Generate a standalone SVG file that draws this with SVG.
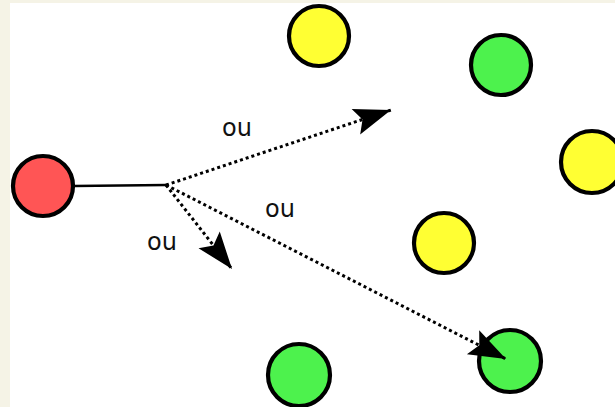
<svg xmlns="http://www.w3.org/2000/svg" width="615" height="407" viewBox="0 0 615 407">
<style>
.n{stroke:#000;stroke-width:4.2}
.r{fill:#ff5555}
.y{fill:#ffff33}
.g{fill:#4df24d}
.d{fill:none;stroke:#000;stroke-width:3;stroke-dasharray:3 3}
.s{fill:none;stroke:#000;stroke-width:2.5}
text{font-family:"DejaVu Sans",sans-serif;font-size:24px;fill:#111}
</style>
<defs>
<marker id="ah" markerUnits="userSpaceOnUse" markerWidth="40" markerHeight="30" viewBox="-38 -15 40 30" refX="0" refY="0" orient="auto" overflow="visible">
<path d="M0,0 L-37,-13.5 L-30,0 L-37,13.5 Z" fill="#000"/>
</marker>
</defs>
<rect x="0" y="0" width="615" height="407" fill="#f5f3e6"/>
<rect x="10" y="3" width="605" height="404" fill="#fff"/>
<g id="red"><circle class="n r" cx="43" cy="186" r="30"/></g>
<g id="yellow-top"><circle class="n y" cx="319" cy="36" r="30"/></g>
<g id="green-top"><circle class="n g" cx="501" cy="65" r="30"/></g>
<g id="yellow-right"><circle class="n y" cx="592" cy="162" r="31"/></g>
<g id="yellow-mid"><circle class="n y" cx="444" cy="243" r="30"/></g>
<g id="green-br"><circle class="n g" cx="510" cy="361" r="31"/></g>
<g id="green-bottom"><circle class="n g" cx="299" cy="375" r="31"/></g>
<g id="connectors">
<line class="s" x1="74" y1="186" x2="166" y2="185"/>
<line class="d" x1="166" y1="185" x2="391" y2="110" marker-end="url(#ah)"/>
<line class="d" x1="166" y1="185" x2="232" y2="269" marker-end="url(#ah)"/>
<line class="d" x1="166" y1="185" x2="506" y2="359" marker-end="url(#ah)"/>
</g>
<g id="labels">
<text x="222" y="136">ou</text>
<text x="265" y="217">ou</text>
<text x="147" y="250">ou</text>
</g>
</svg>
